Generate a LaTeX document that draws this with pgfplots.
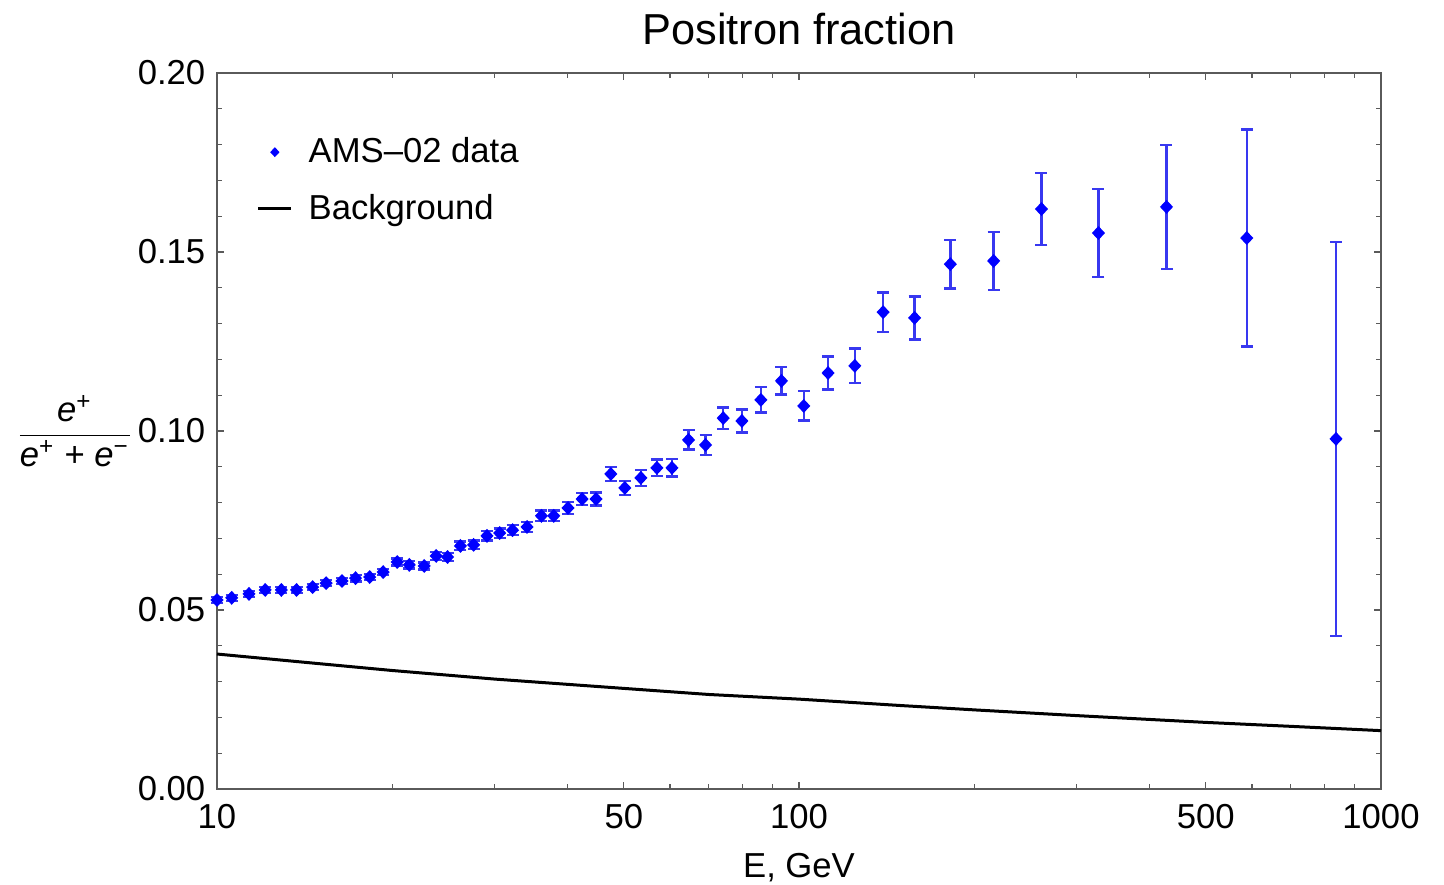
\documentclass[border=0pt]{standalone}
\usepackage{fontspec}
\setmainfont{Liberation Sans}
\usepackage{pgfplots}
\pgfplotsset{compat=1.18}
\usetikzlibrary{calc}
\definecolor{amsBlue}{rgb}{0,0,1}
\definecolor{barBlue}{HTML}{3838F0}
\definecolor{frameGray}{HTML}{5A5A5A}

% px -> pt at 0.3pt per pixel of the reference
\newcommand{\px}[1]{#1*0.3pt}
\newcommand{\ep}{\mbox{\itshape e\textsuperscript{\upshape +}}}

\pgfplotstableread{
E      frac    err
10.0   0.0528  0.0008
10.6   0.0534  0.0008
11.35  0.0545  0.0008
12.1   0.0556  0.0008
12.9   0.0556  0.0008
13.7   0.0556  0.0008
14.6   0.0564  0.0008
15.4   0.0575  0.0008
16.4   0.0581  0.0009
17.3   0.0589  0.0009
18.3   0.0592  0.0009
19.3   0.0606  0.0009
20.4   0.0634  0.0010
21.4   0.0626  0.0010
22.7   0.0623  0.0010
23.8   0.0651  0.0011
24.9   0.0648  0.0011
26.2   0.0679  0.0012
27.6   0.0682  0.0012
29.1   0.0707  0.0013
30.6   0.0715  0.0013
32.2   0.0723  0.0014
34.1   0.0732  0.0014
36.1   0.0763  0.0015
37.9   0.0763  0.0015
40.1   0.0785  0.0016
42.4   0.0810  0.0017
44.8   0.0810  0.0018
47.5   0.0880  0.0020
50.2   0.0841  0.0020
53.5   0.0869  0.0022
57.0   0.0897  0.0023
60.5   0.0897  0.0024
64.6   0.0975  0.0027
69.1   0.0961  0.0028
74.1   0.1036  0.0030
79.8   0.1028  0.0032
86.0   0.1087  0.0035
93.3   0.1140  0.0038
101.9  0.1070  0.0041
112.2  0.1162  0.0046
124.7  0.1182  0.0048
139.5  0.1332  0.0055
158.0  0.1316  0.0060
182    0.1466  0.0068
216    0.1475  0.0081
261    0.1620  0.0100
327    0.1553  0.0123
428    0.1626  0.0173
588    0.1539  0.0303
837    0.0978  0.0550
}\amsdata

\pgfplotstableread{
E     bg
10    0.0377
15    0.0350
20    0.0331
30    0.0307
50    0.0281
70    0.0264
100   0.0251
150   0.0233
200   0.0221
300   0.0205
500   0.0186
700   0.0175
1000  0.0163
}\bgdata

% both legend images share the same extent, so marker and line are centred alike
\pgfplotsset{
  shortline/.style={legend image code/.code={\path (-0.22cm,0cm) (0.225cm,0cm);
      \draw[##1] (-0.22cm,0cm) -- (0.13cm,0cm);}},
  dotimage/.style={legend image code/.code={\path (-0.22cm,0cm) (0.225cm,0cm);
      \draw[##1, mark size=1.2pt] plot coordinates {(-0.045cm,0cm)};}},
}

\begin{document}
\begin{tikzpicture}
\begin{axis}[
    scale only axis,
    width=349.2pt, height=214.8pt,
    xmode=log,
    xmin=10, xmax=1000,
    ymin=0, ymax=0.2,
    xtick={10,50,100,500,1000},
    xticklabels={10,50,100,500,1000},
    minor xtick={20,30,40,60,70,80,90,200,300,400,600,700,800,900},
    ytick={0,0.05,0.1,0.15,0.2},
    minor ytick={0.01,0.02,0.03,0.04,0.06,0.07,0.08,0.09,0.11,0.12,0.13,0.14,0.16,0.17,0.18,0.19},
    yticklabel style={/pgf/number format/.cd, fixed, fixed zerofill, precision=2},
    /pgf/number format/assume math mode=true,
    tick align=inside,
    major tick length=2.1pt,
    minor tick length=1.4pt,
    tick style={frameGray, line width=0.4pt},
    axis line style={frameGray, line width=0.6pt},
    ticklabel style={font=\fontsize{10.4}{12}\selectfont},
    xticklabel style={yshift=-1pt},
    title={Positron fraction},
    title style={font=\fontsize{13}{15}\selectfont, yshift=-1pt},
    xlabel={E, GeV},
    xlabel style={font=\fontsize{10.4}{12}\selectfont, yshift=-0.4pt},
    ylabel={$\displaystyle\frac{\ep}{\ep\mbox{ + }\mbox{\itshape e\textsuperscript{\upshape −}}}$},
    every axis y label/.style={at={(rel axis cs:0,0.5)}, anchor=east, xshift=-21.5pt},
    ylabel style={font=\fontsize{10.4}{12}\selectfont},
    legend cell align=left,
    legend style={at={(rel axis cs:0.025,0.930)}, anchor=north west, draw=none, fill=none,
        font=\fontsize{10.4}{12}\selectfont, row sep=4pt},
    clip=false,
]
  \addplot[only marks, mark=diamond*, mark size=1.8pt, mark options={xscale=1.25}, color=amsBlue, dotimage,
      error bars/.cd, y dir=both, y explicit,
      error bar style={barBlue, line width=0.7pt},
      error mark options={rotate=90, barBlue, mark size=1.8pt, line width=0.7pt}]
    table[x=E, y=frac, y error=err] {\amsdata};
  \addlegendentry{AMS\textendash02 data}

  \addplot[black, line width=0.9pt, shortline]
    table[x=E, y=bg] {\bgdata};
  \addlegendentry{Background}

  \coordinate (sw) at (rel axis cs:0,0);
  \coordinate (ne) at (rel axis cs:1,1);
\end{axis}
\pgfresetboundingbox
\path[use as bounding box] ($(sw)+(-\px{217},-\px{96})$) rectangle ($(ne)+(\px{63},\px{73})$);
\end{tikzpicture}
\end{document}
